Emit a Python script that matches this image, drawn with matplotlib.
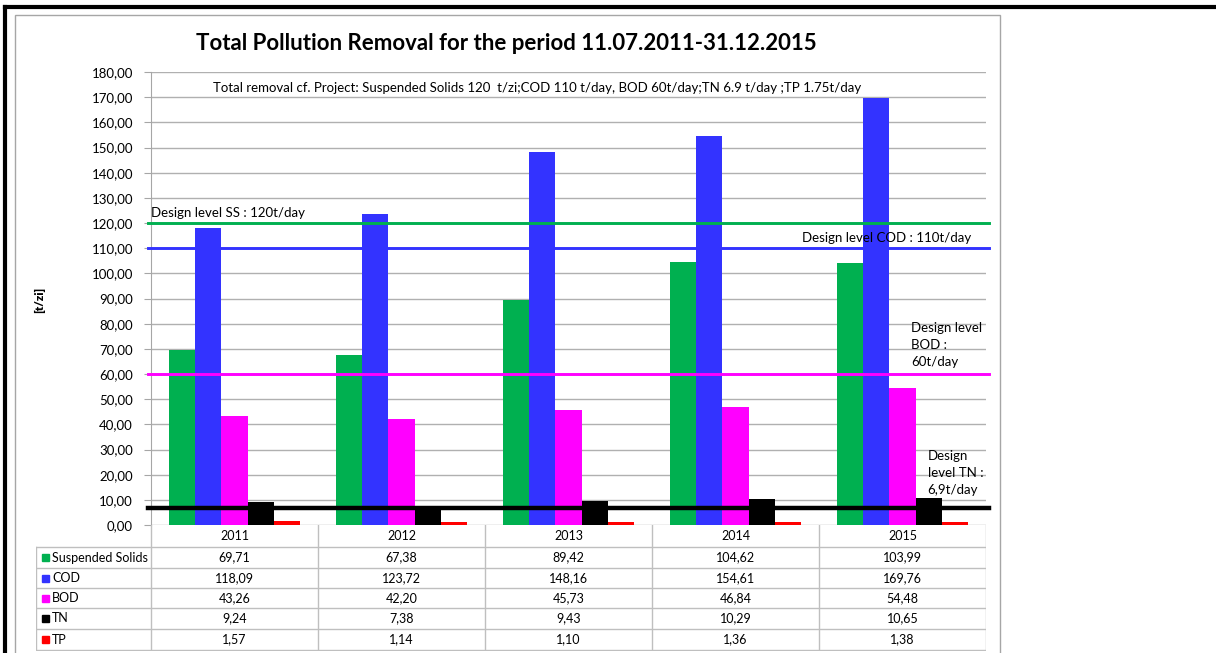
import matplotlib
matplotlib.use("Agg")
import matplotlib.pyplot as plt
from matplotlib.patches import Rectangle
from matplotlib.lines import Line2D

plt.rcParams['font.family'] = ['Lato', 'DejaVu Sans']

# data
years = ["2011", "2012", "2013", "2014", "2015"]
series_names = ["Suspended Solids", "COD", "BOD", "TN", "TP"]
suspended_solids = [69.71, 67.38, 89.42, 104.62, 103.99]
cod = [118.09, 123.72, 148.16, 154.61, 169.76]
bod = [43.26, 42.20, 45.73, 46.84, 54.48]
tn = [9.24, 7.38, 9.43, 10.29, 10.65]
tp = [1.57, 1.14, 1.10, 1.36, 1.38]
series_values = [suspended_solids, cod, bod, tn, tp]
series_colors = ["#00B050", "#3333FF", "#FF00FF", "#000000", "#FF0000"]

design_levels = [120, 110, 60, 6.9]
design_colors = ["#00B050", "#3333FF", "#FF00FF", "#000000"]
design_widths = [2.1, 2.1, 2.1, 3.2]

W, H = 1216, 653


def fx(x):
  return x / W


def fy(y):
  return 1 - y / H


def fmt(v):
  return f"{v:.2f}".replace(".", ",")


fig = plt.figure(figsize=(W / 100, H / 100), dpi=100)

# frames around the chart
fig.add_artist(Line2D([fx(5), fx(1216)], [fy(7), fy(7)], color="black", lw=3))
fig.add_artist(Line2D([fx(5), fx(5)], [fy(7), fy(653)], color="black", lw=3))
fig.add_artist(Rectangle((fx(15), fy(660)), fx(985), fy(15) - fy(660),
                         fill=False, ec="#a6a6a6", lw=1))

# main plot
ax = fig.add_axes([fx(151), fy(525), fx(986 - 151), fy(72) - fy(525)])
n = len(series_names)
w = 0.156
for k in range(n):
  xs = [i + (k - (n - 1) / 2) * w for i in range(len(years))]
  ax.bar(xs, series_values[k], width=w, color=series_colors[k], zorder=2)

for lvl, c, lw in zip(design_levels, design_colors, design_widths):
  ax.axhline(lvl, xmin=-0.004, xmax=1.003, color=c, lw=lw, zorder=3, clip_on=False)

ax.set_xlim(-0.5, len(years) - 0.5)
ax.set_ylim(0, 180)
ax.set_yticks(range(0, 181, 10))
ax.set_yticklabels([fmt(v) for v in range(0, 181, 10)], fontsize=9.5)
ax.set_xticks([])
ax.grid(axis="y", color="#b0b0b0", lw=1, zorder=0)
for s in ["top", "right", "bottom"]:
  ax.spines[s].set_visible(False)
ax.spines["left"].set_color("#a6a6a6")
ax.tick_params(axis="y", length=5, color="#a6a6a6", pad=8)

# annotations
ax.text(-0.5, 121.5, "Design level SS : 120t/day", fontsize=9.5, va="bottom", ha="left", zorder=4)
ax.text(3.4, 111.5, "Design level COD : 110t/day", fontsize=9.5, va="bottom", ha="left", zorder=4)
ax.text(4.05, 62.5, "Design level\nBOD :\n60t/day", fontsize=9.5, va="bottom", ha="left",
        linespacing=1.5, zorder=4)
ax.text(4.15, 11.5, "Design\nlevel TN :\n6,9t/day", fontsize=9.5, va="bottom", ha="left",
        linespacing=1.5, zorder=4)
ax.text(1.81, 173.5, "Total removal cf. Project: Suspended Solids 120  t/zi;COD 110 t/day, "
        "BOD 60t/day;TN 6.9 t/day ;TP 1.75t/day", fontsize=9.5, ha="center", va="center")

fig.text(fx(506), fy(43), "Total Pollution Removal for the period 11.07.2011-31.12.2015",
         fontsize=16, fontweight="bold", ha="center", va="center")
fig.text(fx(40), fy(300), "[t/zi]", fontsize=8.5, fontweight="heavy", rotation=90,
         ha="center", va="center")

# data table below the plot
tab = fig.add_axes([fx(36), fy(651), fx(986 - 36), fy(525) - fy(651)])
tab.set_xlim(0, 950)
tab.set_ylim(126, 0)
tab.axis("off")
label_w = 115
col_w = (950 - label_w) / len(years)
row_y = [0, 22, 43, 63, 83, 104, 125]
grid_c = "#bfbfbf"
for j in range(len(years) + 1):
  x = label_w + j * col_w
  tab.plot([x, x], [0, 125], color=grid_c, lw=1)
tab.plot([0, 0], [22, 125], color=grid_c, lw=1)
for y in row_y[1:]:
  tab.plot([0, 950], [y, y], color=grid_c, lw=1)
for j, yr in enumerate(years):
  tab.text(label_w + (j + 0.5) * col_w, 11, yr, fontsize=9, ha="center", va="center")
for k in range(n):
  yc = (row_y[k + 1] + row_y[k + 2]) / 2
  tab.add_patch(Rectangle((6, yc - 3.5), 7, 7, color=series_colors[k]))
  tab.text(16, yc, series_names[k], fontsize=9, ha="left", va="center")
  for j, v in enumerate(series_values[k]):
    tab.text(label_w + (j + 0.5) * col_w, yc, fmt(v), fontsize=9, ha="center", va="center")

fig.savefig("out.png", dpi=100)
